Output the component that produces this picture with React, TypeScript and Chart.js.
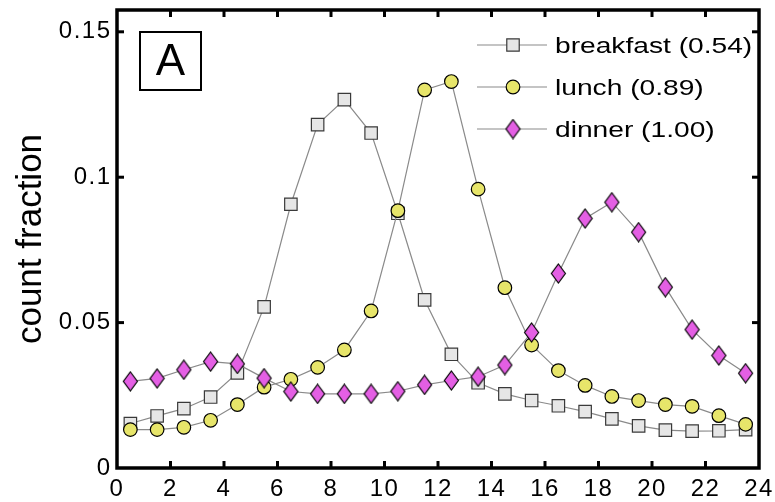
import React, { useEffect, useRef } from "react";
import { Chart, registerables } from "chart.js";

Chart.register(...registerables);

const hours = [0.5, 1.5, 2.5, 3.5, 4.5, 5.5, 6.5, 7.5, 8.5, 9.5, 10.5, 11.5, 12.5, 13.5, 14.5, 15.5, 16.5, 17.5, 18.5, 19.5, 20.5, 21.5, 22.5, 23.5];
const breakfast = [0.0153, 0.0179, 0.0204, 0.0244, 0.0327, 0.0554, 0.0907, 0.1181, 0.1267, 0.1152, 0.0876, 0.0578, 0.0391, 0.0293, 0.0255, 0.0232, 0.0214, 0.0194, 0.0169, 0.0145, 0.0130, 0.0127, 0.0128, 0.0132];
const lunch = [0.0132, 0.0132, 0.0140, 0.0164, 0.0218, 0.0278, 0.0305, 0.0346, 0.0406, 0.0540, 0.0885, 0.1300, 0.1329, 0.0959, 0.0620, 0.0423, 0.0335, 0.0284, 0.0246, 0.0232, 0.0218, 0.0212, 0.0180, 0.0150];
const dinner = [0.0298, 0.0308, 0.0338, 0.0366, 0.0358, 0.0309, 0.0263, 0.0255, 0.0255, 0.0255, 0.0264, 0.0286, 0.0301, 0.0314, 0.0354, 0.0466, 0.0669, 0.0858, 0.0914, 0.0811, 0.0622, 0.0476, 0.0387, 0.0326];
const seriesLabels = ["breakfast (0.54)", "lunch (0.89)", "dinner (1.00)"];
const xTicks = [0, 2, 4, 6, 8, 10, 12, 14, 16, 18, 20, 22, 24];
const yTicks = [0, 0.05, 0.1, 0.15];
const yTickLabels = ["0", "0.05", "0.1", "0.15"];
const panelLabel = "A";
const yTitle = "count fraction";

const FONT = '"Liberation Sans", Arial, Helvetica, sans-serif';
const LINE = "#8a8a8a";

function makeDiamond(): HTMLCanvasElement {
  const c = document.createElement("canvas");
  c.width = 17;
  c.height = 21;
  const g = c.getContext("2d")!;
  g.beginPath();
  g.moveTo(8.5, 1);
  g.lineTo(15.5, 10.5);
  g.lineTo(8.5, 20);
  g.lineTo(1.5, 10.5);
  g.closePath();
  g.fillStyle = "#e45fe4";
  g.fill();
  g.lineWidth = 1.2;
  g.strokeStyle = "#000";
  g.stroke();
  return c;
}

// widen tick labels slightly (reference glyphs are horizontally stretched)
function spacedLabels(s: any) {
  if (s.__spaced) return;
  s.__spaced = true;
  const proto = Object.getPrototypeOf(s);
  s.drawLabels = function (ca: any) {
    const c: any = this.ctx;
    const old = c.letterSpacing;
    c.letterSpacing = "1.5px";
    proto.drawLabels.call(this, ca);
    c.letterSpacing = old || "0px";
  };
}

export default function App() {
  const ref = useRef<HTMLCanvasElement | null>(null);

  useEffect(() => {
    document.body.style.margin = "0";
    const canvas = ref.current;
    if (!canvas) return;
    const diamond = makeDiamond();

    const styles = [
      { pointStyle: "rect" as any, radius: 8.8, bg: "#e6e6e6", border: "#3a3a3a" },
      { pointStyle: "circle" as any, radius: 6.8, bg: "#e7e56a", border: "#000" },
      { pointStyle: diamond as any, radius: 8, bg: "#e45fe4", border: "#000" },
    ];
    const seriesData = [breakfast, lunch, dinner];

    const framePlugin = {
      id: "frame",
      afterDatasetsDraw(chart: any) {
        const { ctx, chartArea, scales } = chart;
        const { left, right, top, bottom } = chartArea;
        const x = scales.x;
        const y = scales.y;
        ctx.save();
        ctx.strokeStyle = "#000";
        ctx.lineCap = "butt";
        const seg = (a: number, b: number, c: number, d: number) => {
          ctx.beginPath();
          ctx.moveTo(a, b);
          ctx.lineTo(c, d);
          ctx.stroke();
        };
        ctx.lineWidth = 3;
        const tl = 7;
        xTicks.forEach((v) => {
          if (v <= 0 || v >= 24) return;
          const px = x.getPixelForValue(v);
          seg(px, bottom, px, bottom - tl);
          seg(px, top, px, top + tl);
        });
        yTicks.forEach((v) => {
          if (v <= 0) return;
          const py = y.getPixelForValue(v);
          seg(left, py, left + tl, py);
          seg(right, py, right - tl, py);
        });
        ctx.lineWidth = 3.5;
        ctx.strokeRect(left, top, right - left, bottom - top);

        // panel label
        ctx.lineWidth = 2;
        ctx.strokeRect(left + 23, top + 22, 61, 58);
        ctx.fillStyle = "#000";
        ctx.font = `44px ${FONT}`;
        ctx.textAlign = "center";
        ctx.textBaseline = "middle";
        ctx.fillText(panelLabel, left + 53.5, top + 53);

        // legend
        ctx.textAlign = "left";
        ctx.textBaseline = "middle";
        seriesLabels.forEach((lab, i) => {
          const ry = top + 35 + i * 42;
          const lx0 = left + 360;
          const lx1 = left + 430;
          const mx = left + 396;
          ctx.strokeStyle = LINE;
          ctx.lineWidth = 1.2;
          seg(lx0, ry, lx1, ry);
          const st = styles[i];
          if (i === 2) {
            ctx.drawImage(diamond, mx - diamond.width / 2, ry - diamond.height / 2);
          } else {
            ctx.fillStyle = st.bg;
            ctx.strokeStyle = st.border;
            ctx.lineWidth = 1.2;
            ctx.beginPath();
            if (i === 0) {
              const h = st.radius * Math.SQRT1_2;
              ctx.rect(mx - h, ry - h, 2 * h, 2 * h);
            } else {
              ctx.arc(mx, ry, st.radius, 0, Math.PI * 2);
            }
            ctx.fill();
            ctx.stroke();
          }
          ctx.save();
          ctx.translate(left + 438, ry + 1.5);
          ctx.scale(1.28, 1);
          ctx.font = `22px ${FONT}`;
          ctx.fillStyle = "#000";
          ctx.fillText(lab, 0, 0);
          ctx.restore();
        });
        ctx.restore();
      },
    };

    const chart = new Chart(canvas, {
      type: "line",
      data: {
        datasets: seriesData.map((d, i) => ({
          label: seriesLabels[i],
          data: d.map((v, j) => ({ x: hours[j], y: v })),
          borderColor: LINE,
          borderWidth: 1.2,
          pointStyle: styles[i].pointStyle,
          pointRadius: styles[i].radius,
          pointHoverRadius: styles[i].radius,
          pointBackgroundColor: styles[i].bg,
          pointBorderColor: styles[i].border,
          pointBorderWidth: 1.2,
          fill: false,
          tension: 0,
          order: 3 - i,
        })),
      },
      options: {
        animation: false,
        responsive: false,
        devicePixelRatio: 1,
        events: [],
        layout: { padding: { left: 0, top: 8, right: 16, bottom: 0 } },
        plugins: { legend: { display: false }, tooltip: { enabled: false } },
        scales: {
          x: {
            type: "linear",
            min: 0,
            max: 24,
            grid: { display: false, drawTicks: false },
            border: { display: false },
            afterBuildTicks: (s: any) => {
              s.ticks = xTicks.map((v) => ({ value: v }));
            },
            afterFit: (s: any) => {
              s.height = 34;
              s.paddingLeft = 0;
              s.paddingRight = 0;
              spacedLabels(s);
            },
            ticks: {
              autoSkip: false,
              maxRotation: 0,
              padding: 7,
              color: "#000",
              font: { family: FONT, size: 24 },
              callback: (v: any) => String(v),
            },
          },
          y: {
            type: "linear",
            min: 0,
            max: 0.1575,
            grid: { display: false, drawTicks: false },
            border: { display: false },
            afterBuildTicks: (s: any) => {
              s.ticks = yTicks.map((v) => ({ value: v }));
            },
            afterFit: (s: any) => {
              s.width = 117;
              s.paddingTop = 0;
              s.paddingBottom = 0;
              spacedLabels(s);
            },
            ticks: {
              autoSkip: false,
              padding: 5.5,
              color: "#000",
              font: { family: FONT, size: 24 },
              callback: (_v: any, i: number) => yTickLabels[i],
            },
            title: {
              display: true,
              text: yTitle,
              color: "#000",
              font: { family: FONT, size: 35 },
              padding: { top: 10, bottom: 0 },
            },
          },
        },
      },
      plugins: [framePlugin],
    });
    return () => chart.destroy();
  }, []);

  return (
    <div style={{ width: 775, height: 502 }}>
      <canvas ref={ref} width={775} height={502} style={{ display: "block" }} />
    </div>
  );
}
